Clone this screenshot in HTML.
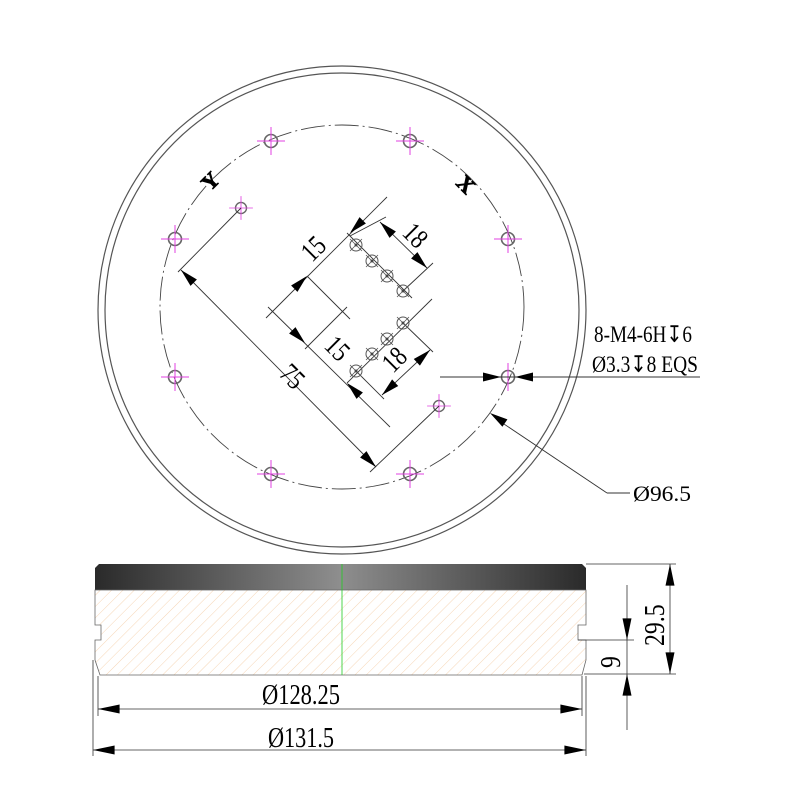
<!DOCTYPE html>
<html><head><meta charset="utf-8"><style>
html,body{margin:0;padding:0;background:#fff;width:800px;height:800px;overflow:hidden}
text{font-family:"Liberation Serif",serif;fill:#000}
</style></head><body>
<svg width="800" height="800" viewBox="0 0 800 800" xmlns="http://www.w3.org/2000/svg">
<defs>
<linearGradient id="g" x1="0" x2="1" y1="0" y2="0">
<stop offset="0" stop-color="#2a2a2a"/><stop offset="0.5" stop-color="#8e8e8e"/><stop offset="1" stop-color="#2a2a2a"/>
</linearGradient>
<pattern id="h" width="8" height="8" patternUnits="userSpaceOnUse" patternTransform="rotate(45)">
<line x1="0" y1="0" x2="0" y2="8" stroke="#f6d6b6" stroke-width="1"/>
</pattern>
<g id="hole"><circle r="6.5" fill="none" stroke="#666" stroke-width="1.6"/><path d="M-14 0H14M0 -14V14" stroke="#e040e0" stroke-width="1"/></g>
<g id="sh"><circle r="6" fill="none" stroke="#555" stroke-width="1"/><path d="M-6 -6L6 6M-6 6L6 -6" stroke="#555" stroke-width="0.8"/><circle r="1.5" fill="#444"/></g>
<path id="ar" d="M0 0L-18 -4.5L-18 4.5Z" fill="#000"/>
</defs>
<circle cx="342" cy="310" r="244" fill="none" stroke="#555" stroke-width="1.2"/>
<circle cx="342" cy="310" r="237" fill="none" stroke="#555" stroke-width="1.2"/>
<circle cx="342" cy="307" r="182" fill="none" stroke="#444" stroke-width="0.9" stroke-dasharray="24 4 2 4"/>
<use href="#hole" x="271" y="141"/><use href="#hole" x="410" y="141"/>
<use href="#hole" x="175" y="239"/><use href="#hole" x="508" y="239"/>
<use href="#hole" x="175" y="377"/><use href="#hole" x="508" y="377"/>
<use href="#hole" x="271" y="474"/><use href="#hole" x="410" y="474"/>
<use href="#hole" x="241" y="208" transform="translate(241 208) scale(0.85) translate(-241 -208)"/>
<use href="#hole" x="439" y="406" transform="translate(439 406) scale(0.85) translate(-439 -406)"/>
<text x="0" y="0" font-size="22" font-weight="bold" stroke="#000" stroke-width="0.8" transform="translate(210 192) rotate(-45)" font-family="Liberation Sans,sans-serif">Y</text>
<text x="0" y="0" font-size="22" font-weight="bold" stroke="#000" stroke-width="0.8" transform="translate(455 184) rotate(45)" font-family="Liberation Sans,sans-serif">X</text>
<g stroke="#333" stroke-width="0.9" fill="none">
<line x1="241" y1="208" x2="178" y2="272"/>
<line x1="439" y1="406" x2="370" y2="472"/>
<line x1="181" y1="270" x2="376" y2="467"/>
<line x1="387" y1="197" x2="266" y2="318"/>
<line x1="307" y1="276" x2="350" y2="319"/>
<line x1="268" y1="307" x2="390" y2="427"/>
<line x1="347" y1="307" x2="305" y2="349"/>
<line x1="347" y1="233" x2="412" y2="298"/>
<line x1="350" y1="236" x2="386" y2="217"/>
<line x1="403" y1="291" x2="433" y2="263"/>
<line x1="380" y1="222" x2="427" y2="268"/>
<line x1="347" y1="383" x2="432" y2="299"/>
<line x1="403" y1="323" x2="433" y2="352"/>
<line x1="356" y1="371" x2="384" y2="399"/>
<line x1="382" y1="395" x2="430" y2="350"/>
<line x1="440" y1="377" x2="700" y2="377"/>
<line x1="498" y1="420" x2="607" y2="493"/>
<line x1="607" y1="493" x2="630" y2="493"/>
</g>
<use href="#sh" x="356" y="245"/><use href="#sh" x="372" y="261"/><use href="#sh" x="387" y="276"/><use href="#sh" x="403" y="291"/>
<use href="#sh" x="356" y="371"/><use href="#sh" x="372" y="354"/><use href="#sh" x="387" y="339"/><use href="#sh" x="403" y="323"/>
<use href="#ar" transform="translate(181 270) rotate(225)"/>
<use href="#ar" transform="translate(376 467) rotate(45)"/>
<use href="#ar" transform="translate(350 233) rotate(135)"/>
<use href="#ar" transform="translate(307 276) rotate(-45)"/>
<use href="#ar" transform="translate(305 343) rotate(45)"/>
<use href="#ar" transform="translate(347 383) rotate(225)"/>
<use href="#ar" transform="translate(380 222) rotate(225)"/>
<use href="#ar" transform="translate(427 268) rotate(45)"/>
<use href="#ar" transform="translate(382 395) rotate(137)"/>
<use href="#ar" transform="translate(430 350) rotate(-43)"/>
<use href="#ar" transform="translate(501 377)"/>
<use href="#ar" transform="translate(515 377) rotate(180)"/>
<use href="#ar" transform="translate(490 413) rotate(214)"/>
<text font-size="28" transform="translate(278 375) rotate(45) scale(0.8 1)">75</text>
<text font-size="28" transform="translate(312 263) rotate(-45) scale(0.8 1)">15</text>
<text font-size="28" transform="translate(323 347) rotate(45) scale(0.8 1)">15</text>
<text font-size="28" transform="translate(401 234) rotate(45) scale(0.8 1)">18</text>
<text font-size="28" transform="translate(393 374) rotate(-45) scale(0.8 1)">18</text>
<text x="594" y="342" font-size="23" textLength="98" lengthAdjust="spacingAndGlyphs">8-M4-6H↧6</text>
<text x="592" y="372" font-size="23" textLength="106" lengthAdjust="spacingAndGlyphs">Ø3.3↧8 EQS</text>
<text x="633" y="501" font-size="22" textLength="58" lengthAdjust="spacingAndGlyphs">Ø96.5</text>
<path d="M95 590V568L99 564H582L586 568V590Z" fill="url(#g)"/>
<path d="M95 590H586V625H578V640H586V660L582 675H100L95 660V640H101V625H95Z" fill="url(#h)" stroke="#666" stroke-width="0.8"/>
<line x1="342" y1="564" x2="342" y2="675" stroke="#2c2" stroke-width="0.8"/>
<g stroke="#333" stroke-width="0.8">
<line x1="98" y1="676" x2="98" y2="716"/><line x1="582" y1="676" x2="582" y2="716"/>
<line x1="93" y1="660" x2="93" y2="756"/><line x1="586" y1="676" x2="586" y2="756"/>
<line x1="98" y1="709" x2="582" y2="709"/>
<line x1="93" y1="750" x2="586" y2="750"/>
<line x1="586" y1="564" x2="676" y2="564"/><line x1="584" y1="674" x2="676" y2="674"/>
<line x1="670" y1="564" x2="670" y2="674"/>
<line x1="578" y1="640" x2="634" y2="640"/>
<line x1="627" y1="585" x2="627" y2="730"/>
</g>
<use href="#ar" transform="translate(98 709) rotate(180) scale(1.2 1)"/>
<use href="#ar" transform="translate(582 709) scale(1.2 1)"/>
<use href="#ar" transform="translate(93 750) rotate(180) scale(1.2 1)"/>
<use href="#ar" transform="translate(586 750) scale(1.2 1)"/>
<use href="#ar" transform="translate(670 564) rotate(-90) scale(1.2 1)"/>
<use href="#ar" transform="translate(670 674) rotate(90) scale(1.2 1)"/>
<use href="#ar" transform="translate(627 640) rotate(90) scale(1.2 1)"/>
<use href="#ar" transform="translate(627 674) rotate(-90) scale(1.2 1)"/>
<text x="262" y="704" font-size="28" textLength="78" lengthAdjust="spacingAndGlyphs">Ø128.25</text>
<text x="268" y="747" font-size="28" textLength="66" lengthAdjust="spacingAndGlyphs">Ø131.5</text>
<text font-size="28" transform="translate(664 646) rotate(-90) scale(0.85 1)">29.5</text>
<text font-size="28" transform="translate(620 668) rotate(-90) scale(0.85 1)">9</text>
</svg>
</body></html>
